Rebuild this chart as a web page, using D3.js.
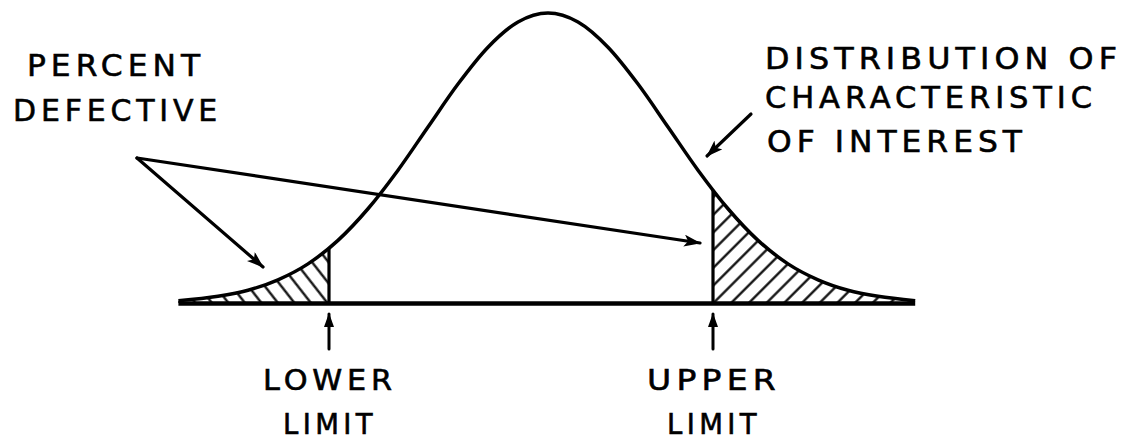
<!DOCTYPE html>
<html>
<head>
<meta charset="utf-8">
<script src="https://cdn.jsdelivr.net/npm/d3@7"></script>
<style>
  html, body { margin: 0; padding: 0; background: #fff; }
  svg { display: block; }
</style>
</head>
<body>
<div id="chart"></div>
<script>
// curve: x in standard deviations, y relative to the peak
const curveX = [-3.08, -2.75, -2.5, -2.25, -2.0, -1.75, -1.5, -1.25, -1.0, -0.75, -0.5, -0.25, 0,
                0.25, 0.5, 0.75, 1.0, 1.25, 1.5, 1.75, 2.0, 2.25, 2.5, 2.75, 3.06];
const curveY = [0.008, 0.023, 0.044, 0.080, 0.135, 0.216, 0.325, 0.458, 0.607, 0.755, 0.882, 0.969, 1.0,
                0.969, 0.882, 0.755, 0.607, 0.458, 0.325, 0.216, 0.135, 0.080, 0.044, 0.023, 0.008];
const lowerLimit = -1.825;
const upperLimit = 1.375;

const limitLabels = [["LOWER", "LIMIT"], ["UPPER", "LIMIT"]];
const leftLabel = ["PERCENT", "DEFECTIVE"];
const rightLabel = ["DISTRIBUTION  OF", "CHARACTERISTIC", "OF  INTEREST"];

const width = 1131, height = 443;
const font = "'DejaVu Sans', sans-serif";

const svg = d3.select("#chart").append("svg")
    .attr("width", width)
    .attr("height", height)
    .attr("viewBox", `0 0 ${width} ${height}`);

// scales: mean at 548px, one sd = 120px
const x = d3.scaleLinear().domain([-1, 1]).range([428, 668]);
const y = d3.scaleLinear().domain([0, 1]).range([303, 13]);

const pts = curveX.map((v, i) => [v, curveY[i]]);

const defs = svg.append("defs");

// hatch patterns
function hatch(id, angle, gap) {
    const p = defs.append("pattern")
        .attr("id", id)
        .attr("patternUnits", "userSpaceOnUse")
        .attr("width", gap)
        .attr("height", gap)
        .attr("patternTransform", `rotate(${angle})`);
    p.append("line")
        .attr("x1", gap / 2).attr("y1", -2)
        .attr("x2", gap / 2).attr("y2", gap + 2)
        .attr("stroke", "#000")
        .attr("stroke-width", 2.2);
}
hatch("hatchL", -38, 13);
hatch("hatchR", 45, 12.5);

const area = d3.area()
    .x(d => x(d[0]))
    .y0(y(0))
    .y1(d => y(d[1]))
    .curve(d3.curveMonotoneX);

const line = d3.line()
    .x(d => x(d[0]))
    .y(d => y(d[1]))
    .curve(d3.curveMonotoneX);

// clip to the area under the curve
defs.append("clipPath").attr("id", "under")
    .append("path").attr("d", area(pts));

defs.append("clipPath").attr("id", "tailL")
    .append("rect")
    .attr("x", 0).attr("y", 0)
    .attr("width", x(lowerLimit)).attr("height", height);

defs.append("clipPath").attr("id", "tailR")
    .append("rect")
    .attr("x", x(upperLimit)).attr("y", 0)
    .attr("width", width - x(upperLimit)).attr("height", height);

// hatched tails
svg.append("g").attr("clip-path", "url(#tailL)")
    .append("path")
    .attr("d", area(pts))
    .attr("fill", "url(#hatchL)");

svg.append("g").attr("clip-path", "url(#tailR)")
    .append("path")
    .attr("d", area(pts))
    .attr("fill", "url(#hatchR)");

// vertical limit lines up to the curve
const limitG = svg.append("g").attr("clip-path", "url(#under)");
[lowerLimit, upperLimit].forEach(v => {
    limitG.append("line")
        .attr("x1", x(v)).attr("x2", x(v))
        .attr("y1", y(0)).attr("y2", y(1))
        .attr("stroke", "#000")
        .attr("stroke-width", 3.2);
});

// curve
svg.append("path")
    .attr("d", line(pts))
    .attr("fill", "none")
    .attr("stroke", "#000")
    .attr("stroke-width", 3.5)
    .attr("stroke-linejoin", "round");

// baseline
svg.append("line")
    .attr("x1", x(curveX[0])).attr("x2", x(curveX[curveX.length - 1]))
    .attr("y1", y(0) + 0.5).attr("y2", y(0) + 0.5)
    .attr("stroke", "#000")
    .attr("stroke-width", 4.5);

// arrowheads
defs.append("marker")
    .attr("id", "head")
    .attr("viewBox", "0 0 17 12")
    .attr("refX", 16).attr("refY", 6)
    .attr("markerWidth", 17).attr("markerHeight", 12)
    .attr("markerUnits", "userSpaceOnUse")
    .attr("orient", "auto")
    .append("path")
    .attr("d", "M0,0 L17,6 L0,12 L4,6 Z")
    .attr("fill", "#000");

defs.append("marker")
    .attr("id", "headS")
    .attr("viewBox", "0 0 14 10")
    .attr("refX", 13).attr("refY", 5)
    .attr("markerWidth", 14).attr("markerHeight", 10)
    .attr("markerUnits", "userSpaceOnUse")
    .attr("orient", "auto")
    .append("path")
    .attr("d", "M0,0 L14,5 L0,10 Z")
    .attr("fill", "#000");

function arrow(x1, y1, x2, y2, head, sw) {
    svg.append("line")
        .attr("x1", x1).attr("y1", y1)
        .attr("x2", x2).attr("y2", y2)
        .attr("stroke", "#000")
        .attr("stroke-width", sw)
        .attr("stroke-linecap", "round")
        .attr("marker-end", `url(#${head})`);
}

// percent defective pointers
arrow(137, 158, 263, 267, "head", 3.2);
arrow(137, 158, 700, 243, "head", 3.2);
// distribution pointer
arrow(751, 114, 707, 156, "head", 3.2);
// limit pointers
[lowerLimit, upperLimit].forEach(v => arrow(x(v), 349, x(v), 314, "headS", 3));

// text: letters slightly widened, then spread to the measured width
function label(txt, cx, base, w, size, anchor) {
    svg.append("text")
        .attr("x", cx)
        .attr("y", base)
        .attr("text-anchor", anchor || "start")
        .attr("textLength", w)
        .attr("lengthAdjust", "spacingAndGlyphs")
        .style("font-family", font)
        .style("font-size", size + "px")
        .style("letter-spacing", "0.16em")
        .style("fill", "#000")
        .style("stroke", "#000")
        .style("stroke-width", 0.6)
        .text(txt);
}

label(leftLabel[0], 27, 76, 178, 31);
label(leftLabel[1], 13, 121, 209, 31);

label(rightLabel[0], 765, 69, 357, 30);
label(rightLabel[1], 765, 108, 332, 30);
label(rightLabel[2], 767, 152, 260, 30);

[lowerLimit, upperLimit].forEach((v, i) => {
    label(limitLabels[i][0], x(v) + 1, 390, 134, 28, "middle");
    label(limitLabels[i][1], x(v) + 1, 434, 94, 28, "middle");
});
</script>
</body>
</html>
